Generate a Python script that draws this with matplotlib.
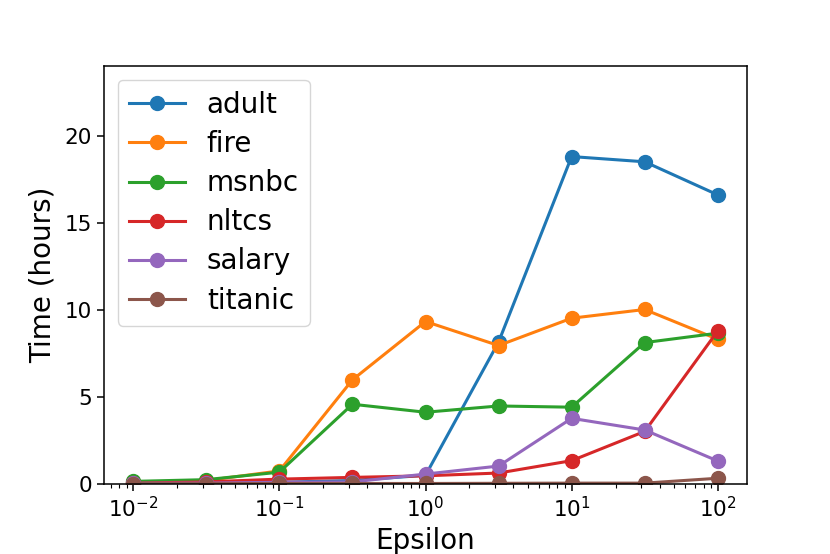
import numpy as np
import matplotlib
matplotlib.use("Agg")
from matplotlib import pyplot as plt

# epsilon values, half-decade steps
epsilon = [1e-2, 10**-1.5, 1e-1, 10**-0.5, 1e0, 10**0.5, 1e1, 10**1.5, 1e2]

# time in hours per dataset
adult = [0.08, 0.08, 0.1, 0.2, 0.5, 8.15, 18.8, 18.5, 16.6]
fire = [0.1, 0.2, 0.75, 5.98, 9.33, 7.95, 9.52, 10.02, 8.31]
msnbc = [0.15, 0.25, 0.68, 4.58, 4.12, 4.48, 4.41, 8.12, 8.66]
nltcs = [0.05, 0.12, 0.28, 0.38, 0.47, 0.63, 1.34, 3.02, 8.79]
salary = [0.04, 0.05, 0.1, 0.12, 0.57, 1.03, 3.77, 3.1, 1.32]
titanic = [0.02, 0.02, 0.03, 0.03, 0.03, 0.04, 0.05, 0.05, 0.33]

names = ["adult", "fire", "msnbc", "nltcs", "salary", "titanic"]
series = [adult, fire, msnbc, nltcs, salary, titanic]

fig = plt.figure(figsize=(8.3, 5.54), dpi=100)
ax = fig.add_axes([104/830, 70/554, 643/830, 418/554])

for nombre, valores in zip(names, series):
  ax.plot(epsilon, valores, marker='o', markersize=10, linewidth=2.2, label=nombre)

ax.set_xscale('log')
ax.set_ylim(0, 24)
ax.set_yticks([0, 5, 10, 15, 20])
ax.tick_params(labelsize=15.5, width=1.1, length=5)
ax.tick_params(which='minor', width=0.8, length=3)
for s in ax.spines.values():
  s.set_linewidth(1.1)

ax.set_xlabel('Epsilon', fontsize=20, labelpad=4)
ax.set_ylabel('Time (hours)', fontsize=20, labelpad=6)
ax.legend(loc='upper left', fontsize=20, handlelength=2.0, labelspacing=0.4)

fig.savefig('out.png', dpi=100)
